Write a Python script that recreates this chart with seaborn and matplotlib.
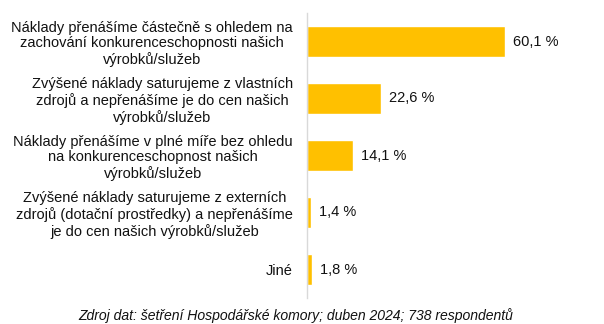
import matplotlib
matplotlib.use("Agg")
import matplotlib.pyplot as plt
import seaborn as sns
import pandas as pd

categories = [
    "Náklady přenášíme částečně s ohledem na\nzachování konkurenceschopnosti našich\nvýrobků/služeb",
    "Zvýšené náklady saturujeme z vlastních\nzdrojů a nepřenášíme je do cen našich\nvýrobků/služeb",
    "Náklady přenášíme v plné míře bez ohledu\nna konkurenceschopnost našich\nvýrobků/služeb",
    "Zvýšené náklady saturujeme z externích\nzdrojů (dotační prostředky) a nepřenášíme\nje do cen našich výrobků/služeb",
    "Jiné",
]
values = [60.1, 22.6, 14.1, 1.4, 1.8]
value_labels = ["60,1 %", "22,6 %", "14,1 %", "1,4 %", "1,8 %"]
source = "Zdroj dat: šetření Hospodářské komory; duben 2024; 738 respondentů"

sns.set_theme(style="white")
plt.rcParams["font.family"] = ["Liberation Sans", "DejaVu Sans"]

df = pd.DataFrame({"cat": categories, "val": values})

W, H = 604, 324
fig = plt.figure(figsize=(W / 100, H / 100), dpi=100)
ax = fig.add_axes([306.5 / W, 1 - 298 / H, (590 - 306.5) / W, (298 - 13) / H])

sns.barplot(data=df, x="val", y="cat", orient="h", color="#FFC000",
            saturation=1, width=0.56, ax=ax)

ax.set_xlim(0, 86)
ax.set_ylim(4.5, -0.5)
ax.set_xlabel("")
ax.set_ylabel("")
ax.set_xticks([])
for s in ["top", "right", "bottom"]:
    ax.spines[s].set_visible(False)
ax.spines["left"].set_color("#d9d9d9")
ax.spines["left"].set_linewidth(1)

ax.tick_params(axis="y", length=0, pad=9.7, labelsize=10.5, labelcolor="#111111")
for t in ax.get_yticklabels():
    t.set_multialignment("center")
    t.set_linespacing(1.17)

for i, (v, lab) in enumerate(zip(values, value_labels)):
    ax.annotate(lab, xy=(v, i), xytext=(8, 0), textcoords="offset pixels",
                ha="left", va="center", fontsize=10.5, color="#111111")

fig.text(295.5 / W, 1 - 316 / H, source, ha="center", va="center",
         fontsize=10.1, style="italic", color="#111111")

fig.savefig("out.png", dpi=100)
